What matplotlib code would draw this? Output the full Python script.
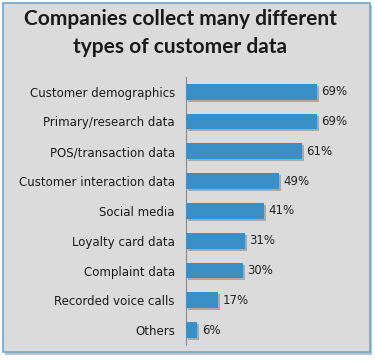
import matplotlib.pyplot as plt
import matplotlib.patheffects as pe
from matplotlib.patches import Rectangle

# data
categories = ["Customer demographics", "Primary/research data", "POS/transaction data",
              "Customer interaction data", "Social media", "Loyalty card data",
              "Complaint data", "Recorded voice calls", "Others"]
values = [69, 69, 61, 49, 41, 31, 30, 17, 6]
value_labels = ["69%", "69%", "61%", "49%", "41%", "31%", "30%", "17%", "6%"]

bar_color = "#3b8fc7"
panel_color = "#dbdbdb"

fig = plt.figure(figsize=(3.75, 3.61), dpi=100)

# panel with shadow and blue frame (behind the axes)
shadow = Rectangle((0.014, 0.017), 0.978, 0.968, transform=fig.transFigure,
                   facecolor="#b8c4cc", edgecolor="none", zorder=-2)
fig.patches.append(shadow)
panel = Rectangle((0.008, 0.025), 0.978, 0.966, transform=fig.transFigure,
                  facecolor=panel_color, edgecolor="#6ea6cf", linewidth=1.2, zorder=-1)
fig.patches.append(panel)

fig.text(0.48, 0.947, "Companies collect many different", ha="center", va="center",
         fontsize=15, fontweight="bold", family="Lato", color="#1a1a1a")
fig.text(0.48, 0.870, "types of customer data", ha="center", va="center",
         fontsize=15, fontweight="bold", family="Lato", color="#1a1a1a")

ax = fig.add_axes([0.496, 0.0443, 0.38, 0.743])
ax.patch.set_visible(False)
y = list(range(len(categories)))
bars = ax.barh(y, values, height=0.53, color=bar_color, zorder=3)
for b in bars:
    b.set_path_effects([pe.SimplePatchShadow(offset=(1.5, -1.5), shadow_rgbFace="#888888", alpha=0.6),
                        pe.Normal()])
for yi, v, lab in zip(y, values, value_labels):
    ax.text(v + 2.3, yi, lab, va="center", ha="left", fontsize=8.5, color="#222222")

ax.set_xlim(0, 75)
ax.set_ylim(len(categories) - 0.5, -0.5)
ax.set_yticks(y)
ax.set_yticklabels(categories, fontsize=8.5, color="#1a1a1a")
ax.tick_params(axis="y", length=0, pad=8)
ax.set_xticks([])
for s in ["top", "right", "bottom"]:
    ax.spines[s].set_visible(False)
ax.spines["left"].set_color("#8a8a8a")
ax.spines["left"].set_linewidth(0.8)

fig.savefig("out.png", dpi=100)
